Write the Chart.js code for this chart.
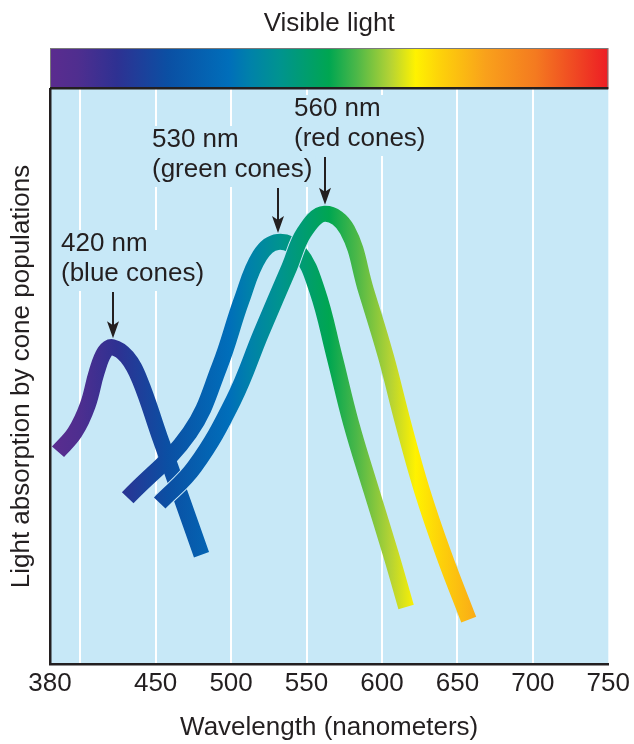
<!DOCTYPE html>
<html>
<head>
<meta charset="utf-8">
<title>Visible light</title>
<script src="https://cdn.jsdelivr.net/npm/chart.js@4.4.1/dist/chart.umd.min.js"></script>
<style>
  html, body { margin: 0; padding: 0; background: #fff; }
  #wrap { width: 634px; height: 744px; }
</style>
</head>
<body>
<div id="wrap"><canvas id="coneChart" width="634" height="744"></canvas></div>
<script>
// wavelength axis (nm); 400 gets a grid line but no label
const xTicks = [380, 400, 450, 500, 550, 600, 650, 700, 750];
const xLabels = ["380", "", "450", "500", "550", "600", "650", "700", "750"];

// absorption curves (wavelength nm / relative absorption)
const blueNm = [385.3, 396.5, 405, 411, 416.3, 421.5, 431, 439.5, 452.7, 466, 480.4];
const blueAbs = [36.9, 40.3, 45.0, 50.8, 54.3, 55.1, 53.4, 49.4, 39.5, 29.7, 19.0];

const greenNm = [431.5, 472.5, 492.3, 507, 519, 531, 545, 557, 568.3, 579.5, 592.8, 606, 616];
const greenAbs = [28.9, 40.2, 51.7, 63.3, 71.0, 73.4, 71.7, 65.0, 53.7, 41.9, 30.3, 19.0, 9.9];

const redNm = [452.7, 475.8, 501.6, 520, 538.6, 548.5, 562, 577, 589.4, 602.7, 614, 626.4, 641, 657.5];
const redAbs = [28.0, 34.3, 45.9, 57.6, 69.0, 75.1, 78.3, 75.5, 65.0, 53.4, 41.9, 30.3, 19.0, 7.7];

// peak annotations
const peakNm = [421.5, 531, 562];
const peakAbs = [55.1, 73.4, 78.3];
const peakText = [["420 nm", "(blue cones)"], ["530 nm", "(green cones)"], ["560 nm", "(red cones)"]];

// --- styling ---
const FONT = "'Liberation Sans', Arial, Helvetica, sans-serif";
const INK = "#231F20";
const BG = "#C7E8F7";
const LINE_W = 16;
const labelPos = [{ x: 61, y: 251 }, { x: 152, y: 147 }, { x: 294, y: 116 }];

const spectrumStops = [
    [0.00, "#5B2C8F"],
    [0.05, "#4F2E8F"],
    [0.12, "#2E3192"],
    [0.21, "#0B4FA3"],
    [0.32, "#006EBA"],
    [0.36, "#0082A9"],
    [0.41, "#009390"],
    [0.50, "#00A651"],
    [0.55, "#4DB848"],
    [0.61, "#B5D334"],
    [0.655, "#FFF200"],
    [0.70, "#FDD10A"],
    [0.78, "#F9A11B"],
    [0.87, "#F47A20"],
    [0.95, "#EF4123"],
    [1.00, "#ED1C24"],
];

function spectrumGradient(ctx, left, right) {
    const g = ctx.createLinearGradient(left, 0, right, 0);
    spectrumStops.forEach((s) => g.addColorStop(s[0], s[1]));
    return g;
}

function curveColor(context) {
    const area = context.chart.chartArea;
    if (!area) return "#00A651";
    return spectrumGradient(context.chart.ctx, area.left, area.right);
}

function toPoints(xs, ys) {
    return xs.map((x, i) => ({ x: x, y: ys[i] }));
}

function curve(xs, ys, order) {
    return {
        data: toPoints(xs, ys),
        borderColor: curveColor,
        borderWidth: LINE_W,
        order: order,
    };
}

// thin background-coloured outline under the top curve, so its crossings show a sliver like the print
function halo(xs, ys, order) {
    return {
        data: toPoints(xs, ys),
        borderColor: BG,
        borderWidth: LINE_W + 2,
        order: order,
    };
}

const figurePlugin = {
    id: "figure",
    beforeDraw(chart) {
        const { ctx, chartArea: a } = chart;
        ctx.save();
        // plot background
        ctx.fillStyle = BG;
        ctx.fillRect(a.left, a.top, a.right - a.left, a.bottom - a.top);
        // spectrum bar
        ctx.fillStyle = spectrumGradient(ctx, a.left, a.right);
        ctx.fillRect(a.left, 48, a.right - a.left, a.top - 48);
        ctx.strokeStyle = "#7a7a7a";
        ctx.lineWidth = 1;
        ctx.strokeRect(a.left + 0.5, 48.5, a.right - a.left - 1, a.top - 49);
        // title
        ctx.fillStyle = INK;
        ctx.font = "26px " + FONT;
        ctx.textAlign = "center";
        ctx.textBaseline = "alphabetic";
        ctx.fillText("Visible light", (a.left + a.right) / 2, 31);
        ctx.restore();
    },
    beforeDatasetsDraw(chart) {
        const { ctx, chartArea: a, scales } = chart;
        ctx.save();
        // dark rule under the spectrum bar
        ctx.fillStyle = INK;
        ctx.fillRect(a.left, a.top - 2, a.right - a.left, 2.5);

        ctx.font = "26px " + FONT;
        ctx.textAlign = "left";
        ctx.textBaseline = "alphabetic";
        peakText.forEach((lines, i) => {
            const p = labelPos[i];
            const w = Math.max(...lines.map((t) => ctx.measureText(t).width));
            // text sits on a knock-out box that interrupts the grid lines
            ctx.fillStyle = BG;
            ctx.fillRect(p.x - 3, p.y - 21, w + 6, 30 + 31);
            ctx.fillStyle = INK;
            lines.forEach((t, j) => ctx.fillText(t, p.x, p.y + j * 30));

            // arrow down to the peak
            const ax = Math.round(scales.x.getPixelForValue(peakNm[i]));
            const tip = scales.y.getPixelForValue(peakAbs[i]) - LINE_W / 2 - 1;
            const top = p.y + 30 + 11;
            ctx.fillRect(ax - 1, top, 2, tip - top - 12);
            ctx.beginPath();
            ctx.moveTo(ax, tip);
            ctx.lineTo(ax - 6, tip - 17);
            ctx.lineTo(ax, tip - 13);
            ctx.lineTo(ax + 6, tip - 17);
            ctx.closePath();
            ctx.fill();
        });
        ctx.restore();
    },
};

const chart = new Chart(document.getElementById("coneChart"), {
    type: "line",
    data: {
        datasets: [
            curve(redNm, redAbs, 1),
            halo(redNm, redAbs, 2),
            curve(blueNm, blueAbs, 3),
            curve(greenNm, greenAbs, 4),
        ],
    },
    options: {
        responsive: false,
        animation: false,
        devicePixelRatio: 1,
        layout: { padding: { top: 89, right: 24, left: 0, bottom: 0 } },
        plugins: { legend: { display: false }, tooltip: { enabled: false } },
        elements: {
            point: { radius: 0, hoverRadius: 0 },
            line: { tension: 0.4, borderCapStyle: "butt", borderJoinStyle: "round", fill: false },
        },
        scales: {
            x: {
                type: "linear",
                min: 380,
                max: 750,
                afterBuildTicks: (s) => {
                    s.ticks = xTicks.map((v) => ({ value: v }));
                },
                afterFit: (s) => {
                    s.height = 80;
                },
                grid: {
                    color: (c) => (c.tick && (c.tick.value === 380 || c.tick.value === 750) ? "rgba(0,0,0,0)" : "#ffffff"),
                    lineWidth: 2,
                    drawTicks: false,
                },
                border: { display: true, color: INK, width: 2.5 },
                ticks: {
                    padding: 4,
                    color: INK,
                    autoSkip: false,
                    maxRotation: 0,
                    font: { family: FONT, size: 26 },
                    callback: (v, i) => xLabels[i],
                },
                title: {
                    display: true,
                    text: "Wavelength (nanometers)",
                    color: INK,
                    font: { family: FONT, size: 26 },
                    padding: { top: 0, bottom: 1 },
                },
            },
            y: {
                min: 0,
                max: 100,
                ticks: { display: false },
                grid: { display: false },
                border: { display: true, color: INK, width: 2.5 },
                afterFit: (s) => {
                    s.width = 50;
                },
                title: {
                    display: true,
                    text: "Light absorption by cone populations",
                    color: INK,
                    font: { family: FONT, size: 26 },
                    padding: { top: 6, bottom: 0 },
                },
            },
        },
    },
    plugins: [figurePlugin],
});
</script>
</body>
</html>
